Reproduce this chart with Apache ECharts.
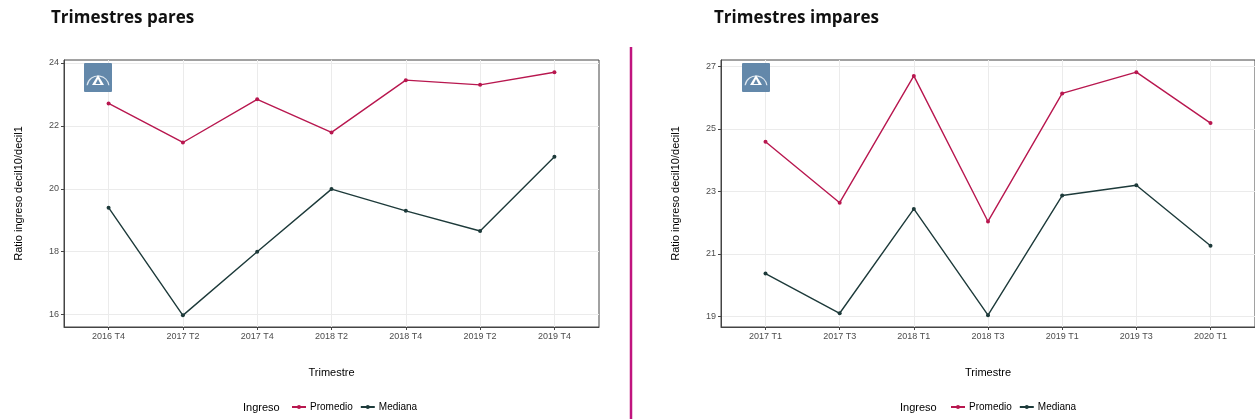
<!DOCTYPE html>
<html>
<head>
<meta charset="utf-8">
<script src="https://cdn.jsdelivr.net/npm/echarts@6/dist/echarts.min.js"></script>
<style>
  html, body { margin: 0; padding: 0; background: #fff; }
  #chart { width: 1255px; height: 419px; }
</style>
</head>
<body>
<div id="chart"></div>
<script>
  // trimestres pares
  var catsPares = ['2016 T4', '2017 T2', '2017 T4', '2018 T2', '2018 T4', '2019 T2', '2019 T4'];
  var promedioPares = [22.71, 21.47, 22.84, 21.79, 23.45, 23.30, 23.70];
  var medianaPares = [19.40, 15.98, 18.00, 19.99, 19.30, 18.66, 21.02];
  var yTicksPares = [16, 18, 20, 22, 24];

  // trimestres impares
  var catsImpares = ['2017 T1', '2017 T3', '2018 T1', '2018 T3', '2019 T1', '2019 T3', '2020 T1'];
  var promedioImpares = [24.59, 22.64, 26.70, 22.04, 26.14, 26.82, 25.19];
  var medianaImpares = [20.37, 19.10, 22.44, 19.04, 22.87, 23.20, 21.26];
  var yTicksImpares = [19, 21, 23, 25, 27];

  var colPromedio = '#b8174f';
  var colMediana = '#1d3a3a';
  var font = '"Liberation Sans", Arial, sans-serif';

  var myChart = echarts.init(document.getElementById('chart'));

  function pares(vals) {
    return vals.map(function (v, i) { return [i, v]; });
  }

  function xAxisFor(idx, cats) {
    var pos = cats.map(function (c, i) { return i; });
    return {
      type: 'value',
      gridIndex: idx,
      min: -0.6,
      max: cats.length - 0.4,
      name: 'Trimestre',
      nameLocation: 'middle',
      nameGap: 40,
      nameTextStyle: { color: '#000', fontSize: 11, fontFamily: font },
      axisLine: { show: true, onZero: false, lineStyle: { color: '#444', width: 1 } },
      axisTick: { show: true, length: 3, customValues: pos, lineStyle: { color: '#444' } },
      axisLabel: {
        customValues: pos,
        margin: 5,
        color: '#4d4d4d',
        fontSize: 9,
        fontFamily: font,
        formatter: function (v) { return cats[Math.round(v)]; }
      },
      splitLine: { show: true, lineStyle: { color: '#ebebeb', width: 1 } }
    };
  }

  function yAxisFor(idx, ticks, mn, mx) {
    return {
      type: 'value',
      gridIndex: idx,
      min: mn,
      max: mx,
      name: 'Ratio ingreso decil10/decil1',
      nameLocation: 'middle',
      nameGap: 40,
      nameTextStyle: { color: '#000', fontSize: 11, fontFamily: font },
      axisLine: { show: true, onZero: false, lineStyle: { color: '#444', width: 1 } },
      axisTick: { show: true, length: 3, customValues: ticks, lineStyle: { color: '#444' } },
      axisLabel: { customValues: ticks, margin: 5, color: '#4d4d4d', fontSize: 9, fontFamily: font },
      splitLine: { show: true, lineStyle: { color: '#ebebeb', width: 1 } }
    };
  }

  function serie(name, idx, data, color) {
    return {
      name: name,
      type: 'line',
      xAxisIndex: idx,
      yAxisIndex: idx,
      data: data,
      symbol: 'circle',
      symbolSize: 4,
      showSymbol: true,
      lineStyle: { color: color, width: 1.4 },
      itemStyle: { color: color },
      emphasis: { disabled: true }
    };
  }

  function logo(x, y) {
    return {
      type: 'group',
      x: x,
      y: y,
      z: 100,
      silent: true,
      children: [
        { type: 'rect', z: 100, shape: { x: 0, y: 0, width: 28, height: 29, r: 1 }, style: { fill: '#6388aa' } },
        { type: 'arc', z: 101, shape: { cx: 14, cy: 24, r: 11, startAngle: Math.PI * 1.05, endAngle: Math.PI * 1.95 },
          style: { stroke: '#dce6ef', lineWidth: 1.2, fill: null } },
        { type: 'polygon', z: 101, shape: { points: [[14, 12], [8, 22], [20, 22]] }, style: { fill: '#ffffff' } },
        { type: 'polygon', z: 102, shape: { points: [[14, 16], [11.5, 21], [16.5, 21]] }, style: { fill: '#6388aa' } }
      ]
    };
  }

  function leyenda(left) {
    return {
      data: ['Promedio', 'Mediana'],
      left: left, top: 397,
      itemWidth: 14, itemHeight: 5, itemGap: 7,
      selectedMode: false,
      textStyle: { color: '#000', fontSize: 10, fontFamily: font, padding: [0, 0, 0, -1] }
    };
  }

  var option = {
    backgroundColor: '#ffffff',
    animation: false,
    grid: [
      { left: 64, top: 60, width: 535, height: 267, show: true, borderColor: '#444', borderWidth: 1, backgroundColor: 'transparent' },
      { left: 721, top: 60, width: 537, height: 267, show: true, borderColor: '#444', borderWidth: 1, backgroundColor: 'transparent' }
    ],
    xAxis: [
      xAxisFor(0, catsPares),
      xAxisFor(1, catsImpares)
    ],
    yAxis: [
      yAxisFor(0, yTicksPares, 15.61, 24.09),
      yAxisFor(1, yTicksImpares, 18.66, 27.21)
    ],
    legend: [leyenda(286), leyenda(945)],
    graphic: [
      { type: 'text', x: 51, y: 18, style: { text: 'Trimestres pares', font: 'bold 17px "Open Sans", sans-serif', fill: '#111', verticalAlign: 'middle' } },
      { type: 'text', x: 714, y: 18, style: { text: 'Trimestres impares', font: 'bold 17px "Open Sans", sans-serif', fill: '#111', verticalAlign: 'middle' } },
      { type: 'line', shape: { x1: 631, y1: 47, x2: 631, y2: 419 }, style: { stroke: '#c0147e', lineWidth: 2.5 } },
      { type: 'text', x: 243, y: 408, style: { text: 'Ingreso', font: '11px "Liberation Sans", Arial, sans-serif', fill: '#000', verticalAlign: 'middle' } },
      { type: 'text', x: 900, y: 408, style: { text: 'Ingreso', font: '11px "Liberation Sans", Arial, sans-serif', fill: '#000', verticalAlign: 'middle' } },
      logo(84, 63),
      logo(742, 63)
    ],
    series: [
      serie('Promedio', 0, pares(promedioPares), colPromedio),
      serie('Mediana', 0, pares(medianaPares), colMediana),
      serie('Promedio', 1, pares(promedioImpares), colPromedio),
      serie('Mediana', 1, pares(medianaImpares), colMediana)
    ]
  };

  myChart.setOption(option);
</script>
</body>
</html>
